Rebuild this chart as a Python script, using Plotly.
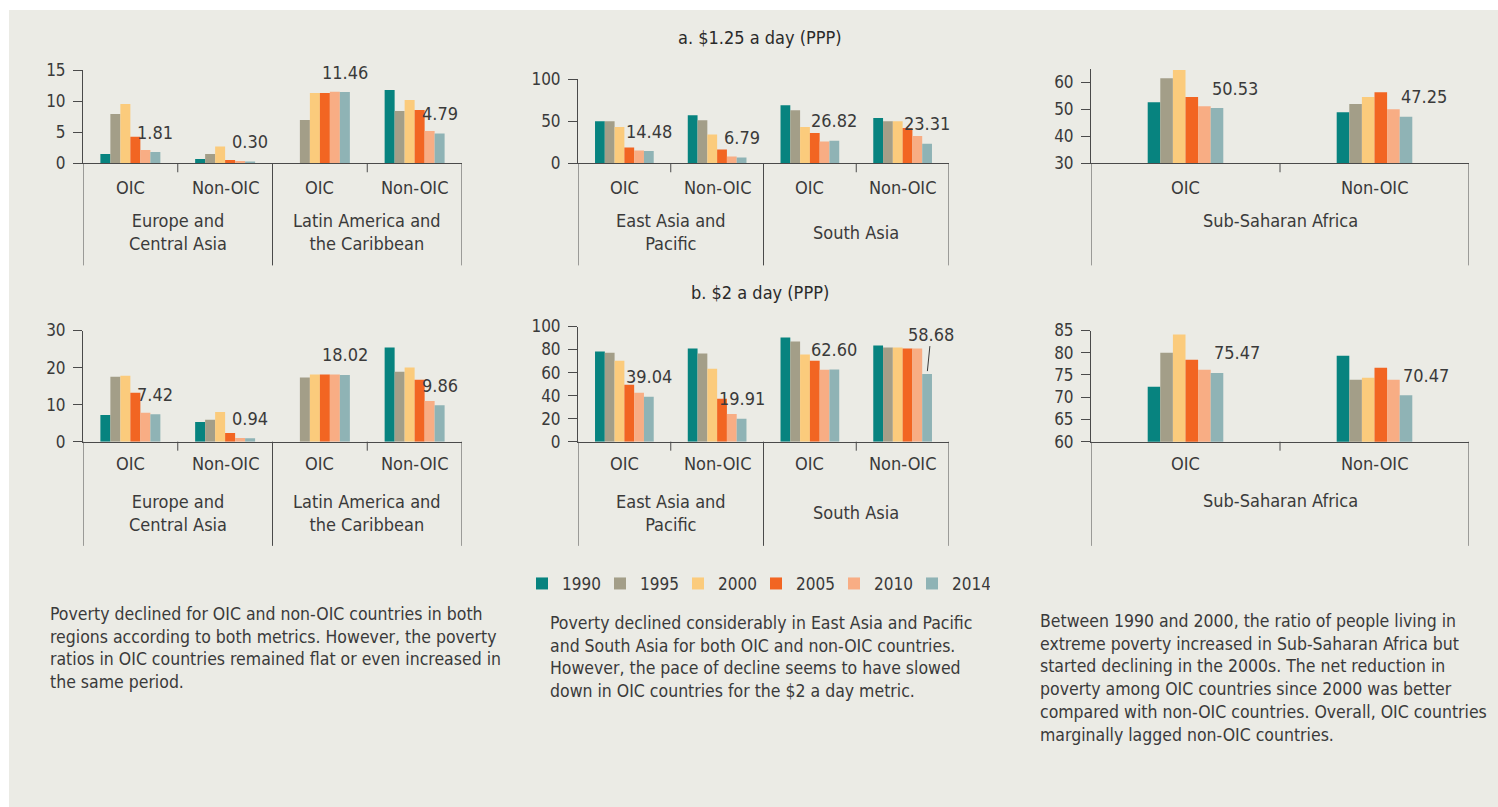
import plotly.graph_objects as go

# ---------------- data ----------------
years = ["1990", "1995", "2000", "2005", "2010", "2014"]
year_colors = ["#07837F", "#A39E88", "#FBCB7C", "#F26522", "#F8AD84", "#8FB3B5"]
groups = ["OIC", "Non-OIC"]

regions_left = ["Europe and<br>Central Asia", "Latin America and<br>the Caribbean"]
regions_mid = ["East Asia and<br>Pacific", "South Asia"]
regions_right = ["Sub-Saharan Africa"]

# rows = years, columns = region x group (OIC, Non-OIC, OIC, Non-OIC)
p125_eca_lac = [
    [1.5, 0.70, None, 11.78],
    [7.93, 1.50, 6.96, 8.41],
    [9.53, 2.68, 11.30, 10.18],
    [4.28, 0.54, 11.30, 8.57],
    [2.14, 0.37, 11.50, 5.20],
    [1.81, 0.30, 11.46, 4.79],
]
p125_eap_sa = [
    [49.8, 57.0, 68.9, 53.8],
    [49.8, 51.0, 62.9, 49.8],
    [43.0, 34.3, 43.0, 49.8],
    [18.7, 16.3, 35.9, 41.8],
    [15.1, 8.0, 25.9, 32.3],
    [14.48, 6.79, 26.82, 23.31],
]
p125_ssa = [
    [52.7, 49.0],
    [61.6, 52.0],
    [64.7, 54.6],
    [54.6, 56.4],
    [51.2, 50.1],
    [50.53, 47.25],
]
p2_eca_lac = [
    [7.2, 5.3, None, 25.4],
    [17.5, 5.9, 17.3, 18.9],
    [17.8, 8.0, 18.1, 20.0],
    [13.2, 2.35, 18.1, 16.7],
    [7.8, 1.0, 18.1, 11.0],
    [7.42, 0.94, 18.02, 9.86],
]
p2_eap_sa = [
    [78.2, 80.8, 90.4, 83.4],
    [77.3, 76.5, 86.9, 81.7],
    [70.3, 63.4, 75.6, 81.7],
    [49.4, 37.2, 70.3, 80.8],
    [42.4, 24.1, 62.5, 80.8],
    [39.04, 19.91, 62.60, 58.68],
]
p2_ssa = [
    [72.35, 79.35],
    [80.0, 73.9],
    [84.1, 74.4],
    [78.45, 76.6],
    [76.2, 73.9],
    [75.47, 70.47],
]

title_a = "a. $1.25 a day (PPP)"
title_b = "b. $2 a day (PPP)"

text_left = [
    "Poverty declined for OIC and non-OIC countries in both",
    "regions according to both metrics. However, the poverty",
    "ratios in OIC countries remained flat or even increased in",
    "the same period.",
]
text_mid = [
    "Poverty declined considerably in East Asia and Pacific",
    "and South Asia for both OIC and non-OIC countries.",
    "However, the pace of decline seems to have slowed",
    "down in OIC countries for the $2 a day metric.",
]
text_right = [
    "Between 1990 and 2000, the ratio of people living in",
    "extreme poverty increased in Sub-Saharan Africa but",
    "started declining in the 2000s. The net reduction in",
    "poverty among OIC countries since 2000 was better",
    "compared with non-OIC countries. Overall, OIC countries",
    "marginally lagged non-OIC countries.",
]

# ---------------- layout helpers ----------------
W = 1498
H = 818          # figure height
TOP = 10         # vertical offset of the figure on the page
SCL = 0.974      # vertical scale of the photographed page
FONT = "DejaVu Sans Condensed, Liberation Sans Narrow, Arial Narrow, sans-serif"
TXT = "#3a3a3a"
LINE = "#4a4a4a"
BG = "#EBEBE5"
LAB = 18     # category / region labels
NUM = 17     # numbers (ticks, values)
PAR = 17.5   # paragraphs


def fx(px):
    return px / W


def fy(py):
    return 1 - ((py - TOP) / SCL) / H


panels = [
    dict(data=p125_eca_lac, regions=regions_left, xd=(83, 462), yd=(70, 163),
         rng=[0, 15], tv=[0, 5, 10, 15], frac=0.633, lshift=0,
         lab_y=187, reg_y=232, bottom=265),
    dict(data=p125_eap_sa, regions=regions_mid, xd=(578, 949), yd=(79, 163),
         rng=[0, 100], tv=[0, 50, 100], frac=0.633, lshift=0,
         lab_y=187, reg_y=232, bottom=265),
    dict(data=p125_ssa, regions=regions_right, xd=(1091, 1469), yd=(69, 163),
         rng=[30, 65], tv=[30, 40, 50, 60], frac=0.40, lshift=18,
         lab_y=187, reg_y=220, bottom=265),
    dict(data=p2_eca_lac, regions=regions_left, xd=(83, 462), yd=(330, 441),
         rng=[0, 30], tv=[0, 10, 20, 30], frac=0.633, lshift=0,
         lab_y=463, reg_y=512, bottom=545),
    dict(data=p2_eap_sa, regions=regions_mid, xd=(578, 949), yd=(326, 441),
         rng=[0, 100], tv=[0, 20, 40, 60, 80, 100], frac=0.633, lshift=0,
         lab_y=463, reg_y=512, bottom=545),
    dict(data=p2_ssa, regions=regions_right, xd=(1091, 1469), yd=(330, 441),
         rng=[60, 85], tv=[60, 65, 70, 75, 80, 85], frac=0.40, lshift=20,
         lab_y=463, reg_y=500, bottom=545),
]

fig = go.Figure()
layout = {}
shapes = [dict(type="rect", xref="paper", yref="paper", x0=fx(9), x1=1,
               y0=0, y1=min(1, fy(6)),
               fillcolor=BG, line_width=0, layer="below")]
annotations = []

for p, pan in enumerate(panels, start=1):
    xa, ya = f"x{p}", f"y{p}"
    regs = pan["regions"]
    cats = [f"{r}|{g}" for r in regs for g in groups]
    n = len(cats)
    G = pan["frac"]
    w = G / len(years)
    for k, yr in enumerate(years):
        fig.add_trace(go.Bar(
            x=cats, y=pan["data"][k], xaxis=xa, yaxis=ya,
            name=yr, legendgroup=yr, showlegend=(p == 1),
            marker=dict(color=year_colors[k], line=dict(width=0)),
            width=w, offset=-G / 2 + k * w, hoverinfo="skip",
        ))
    layout[f"xaxis{p}"] = dict(
        domain=[fx(pan["xd"][0]), fx(pan["xd"][1])], anchor=ya, type="category",
        range=[-0.5, n - 0.5], showline=True, linecolor=LINE, linewidth=1,
        showticklabels=False, ticks="", showgrid=False, zeroline=False, fixedrange=True,
    )
    layout[f"yaxis{p}"] = dict(
        domain=[fy(pan["yd"][1]), fy(pan["yd"][0])], anchor=xa, range=pan["rng"],
        tickvals=pan["tv"], showline=True, linecolor=LINE, linewidth=1,
        ticks="outside", ticklen=9, tickcolor=LINE, tickwidth=1,
        showgrid=False, zeroline=False, fixedrange=True,
        tickfont=dict(size=NUM, color=TXT, family=FONT), ticklabelstandoff=4,
    )
    base_y = fy(pan["yd"][1])
    bot_y = fy(pan["bottom"])
    # dividers: long at ends and region boundaries, short between groups
    for b in range(n + 1):
        xpos = b - 0.5
        long = (b % len(groups) == 0)
        shapes.append(dict(type="line", xref=xa, yref="paper", x0=xpos, x1=xpos,
                           y0=base_y, y1=(bot_y if long else fy(pan["yd"][1] + 9)),
                           line=dict(color=LINE, width=1)))
    # category labels
    for i, c in enumerate(cats):
        annotations.append(dict(xref=xa, yref="paper", x=i, y=fy(pan["lab_y"]),
                                text=c.split("|")[1], showarrow=False, yanchor="middle",
                                font=dict(size=LAB, color=TXT, family=FONT)))
    for r, reg in enumerate(regs):
        annotations.append(dict(xref=xa, yref="paper", x=r * len(groups) + (len(groups) - 1) / 2,
                                y=fy(pan["reg_y"]), text=reg, showarrow=False,
                                yanchor="middle", font=dict(size=LAB, color=TXT, family=FONT)))
    # value labels on the 2014 bars
    last = pan["data"][-1]
    for i, v in enumerate(last):
        xc = i - G / 2 + (len(years) - 0.5) * w
        lab = f"{v:.2f}"
        if p == 5 and i == 3:
            annotations.append(dict(xref=xa, yref=ya, x=xc, y=v, text=lab,
                                    showarrow=True, arrowhead=0, arrowwidth=1,
                                    arrowcolor=TXT, ax=4, ay=-40, standoff=3,
                                    font=dict(size=NUM + 1, color=TXT, family=FONT)))
        else:
            annotations.append(dict(xref=xa, yref=ya, x=xc, y=v, text=lab,
                                    showarrow=False, yanchor="middle", yshift=20,
                                    xshift=pan["lshift"],
                                    font=dict(size=NUM + 1, color=TXT, family=FONT)))

# panel titles
annotations.append(dict(xref="paper", yref="paper", x=fx(760), y=fy(37), text=title_a,
                        showarrow=False, yanchor="middle",
                        font=dict(size=18, color="#2a2a2a", family=FONT)))
annotations.append(dict(xref="paper", yref="paper", x=fx(760), y=fy(292), text=title_b,
                        showarrow=False, yanchor="middle",
                        font=dict(size=18, color="#2a2a2a", family=FONT)))

# descriptive text blocks
for lines, x0, y0 in [(text_left, 48, 613), (text_mid, 548, 622), (text_right, 1038, 620)]:
    for j, line in enumerate(lines):
        annotations.append(dict(xref="paper", yref="paper", x=fx(x0), y=fy(y0 + 22.7 * j),
                                text=line, showarrow=False, xanchor="left", yanchor="middle",
                                align="left", font=dict(size=PAR, color=TXT, family=FONT)))

fig.update_layout(
    width=W, height=H, margin=dict(l=0, r=0, t=0, b=0),
    paper_bgcolor="white", plot_bgcolor="rgba(0,0,0,0)",
    font=dict(family=FONT, color=TXT, size=NUM),
    showlegend=True,
    legend=dict(orientation="h", x=fx(522), y=fy(583), xanchor="left", yanchor="middle",
                bgcolor="rgba(0,0,0,0)", font=dict(size=NUM, color=TXT, family=FONT),
                traceorder="normal", entrywidth=33, entrywidthmode="pixels"),
    shapes=shapes, annotations=annotations,
    **layout,
)

fig.write_html(
    "out.html",
    config={"displayModeBar": False},
    post_script="document.documentElement.style.margin='0';document.body.style.margin='0';"
                "document.body.style.overflow='hidden';document.documentElement.style.overflow='hidden';",
)
